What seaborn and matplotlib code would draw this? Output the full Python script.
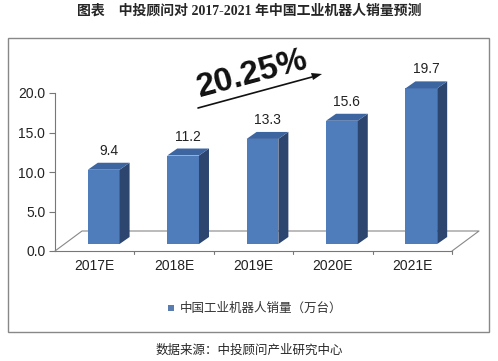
import numpy as np
import pandas as pd
import matplotlib
matplotlib.use('Agg')
import matplotlib.pyplot as plt
import seaborn as sns
from matplotlib.patches import Polygon, Rectangle
from matplotlib.lines import Line2D

# dados
anos = ['2017E', '2018E', '2019E', '2020E', '2021E']
vendas = [9.4, 11.2, 13.3, 15.6, 19.7]
yticks = [0, 5, 10, 15, 20]
serie = '中国工业机器人销量（万台）'
taxa = '20.25%'
titulo = '图表　中投顾问对 2017-2021 年中国工业机器人销量预测'
fonte = '数据来源：中投顾问产业研究中心'

df = pd.DataFrame({'ano': anos, 'vendas': vendas})

sns.set_style('white')
plt.rcParams['font.family'] = ['Liberation Sans', 'Noto Sans CJK SC']

W, H = 498, 361
fig = plt.figure(figsize=(W / 100, H / 100), dpi=100)
ax = fig.add_axes([55 / W, 1 - 251 / H, (452 - 55) / W, (251 - 93) / H])

cor_frente = '#4F7CBA'
cor_topo = '#3D65A0'
cor_lado = '#2C4670'

sns.barplot(data=df, x='ano', y='vendas', color=cor_frente, width=0.4,
            saturation=1, ax=ax, zorder=3)
ax.set_ylim(0, 20)
ax.set_xlim(-0.5, len(anos) - 0.5)
ax.set_yticks(yticks)
ax.set_yticklabels([f'{v:.1f}' for v in yticks], fontsize=10, color='#222222')
ax.set_xticks(range(len(anos)))
ax.set_xticklabels(anos, fontsize=10, color='#222222')
ax.set_xlabel('')
ax.set_ylabel('')
for s in ['top', 'right']:
    ax.spines[s].set_visible(False)
for s in ['left', 'bottom']:
    ax.spines[s].set_color('#777777')
    ax.spines[s].set_linewidth(0.8)
ax.tick_params(axis='y', length=4, color='#777777', pad=3, direction='out', left=True)
ax.tick_params(axis='x', length=0, pad=6)
# marcas entre categorias no eixo x
for b in np.arange(0.5, len(anos) - 0.5, 1):
    ax.plot([b, b], [0, -0.35], color='#777777', lw=0.8, clip_on=False)
ax.plot([4.5, 4.5], [0, -0.35], color='#777777', lw=0.8, clip_on=False)

fig.canvas.draw()
tr = ax.transData
inv = ax.transData.inverted()

# piso em perspectiva
dx_f, dy_f = 27, 20
p0 = tr.transform((-0.5, 0))
p1 = tr.transform((4.5, 0))
piso = [(p0[0], p0[1]), (p0[0] + dx_f, p0[1] + dy_f),
        (p1[0] + dx_f, p1[1] + dy_f), (p1[0], p1[1])]
fig.add_artist(Line2D([q[0] for q in piso], [q[1] for q in piso],
                      transform=None, color='#888888', lw=0.8, zorder=1))

# barras 3D: deslocar a face frontal e desenhar lados e topos
ox, oy = 9, 7
dx, dy = 10, 7
for bar, v in zip(ax.patches, vendas):
    x0, y0 = bar.get_x(), bar.get_y()
    x1, y1 = x0 + bar.get_width(), y0 + bar.get_height()
    a = tr.transform((x0, y0)) + (ox, oy)
    b = tr.transform((x1, y1)) + (ox, oy)
    bar.set_visible(False)
    frente = Rectangle((a[0], a[1]), b[0] - a[0], b[1] - a[1], transform=None,
                       facecolor=cor_frente, edgecolor='none', zorder=3)
    lado = Polygon([(b[0], a[1]), (b[0], b[1]), (b[0] + dx, b[1] + dy),
                    (b[0] + dx, a[1] + dy)], closed=True, transform=None,
                   facecolor=cor_lado, edgecolor='none', zorder=3)
    topo = Polygon([(a[0], b[1]), (b[0], b[1]), (b[0] + dx, b[1] + dy),
                    (a[0] + dx, b[1] + dy)], closed=True, transform=None,
                   facecolor=cor_topo, edgecolor='none', zorder=3)
    for p in (frente, lado, topo):
        fig.add_artist(p)
    fig.text((a[0] + b[0] + dx) / 2 / W, (b[1] + dy + 5) / H, f'{v}',
             ha='center', va='bottom', fontsize=10, color='#222222')

# seta de crescimento
fig.add_artist(Line2D([198, 312], [H - 108, H - 77], transform=None,
                      color='#111111', lw=1.2))
fig.add_artist(Polygon([(322, H - 74), (311, H - 73), (313, H - 80)], closed=True,
                       transform=None, facecolor='#111111', edgecolor='none'))
fig.text(252 / W, 1 - 74 / H, taxa, ha='center', va='center', rotation=15,
         fontsize=24, fontweight='bold', color='#111111')

# moldura
fig.add_artist(Rectangle((8 / W, 1 - 332 / H), (489 - 8) / W, (332 - 38) / H,
                         transform=fig.transFigure, fill=False,
                         edgecolor='#888888', lw=1.0))

# legenda
fig.add_artist(Rectangle((168 / W, 1 - 311 / H), 6 / W, 6 / H,
                         transform=fig.transFigure, facecolor='#5A7DB0',
                         edgecolor='none'))
fig.text(180 / W, 1 - 308 / H, serie, ha='left', va='center', fontsize=9,
         color='#333333', family=['Noto Sans CJK SC'])

fig.text(249 / W, 1 - 11 / H, titulo, ha='center', va='center', fontsize=10,
         fontweight='bold', family=['Liberation Serif', 'Noto Sans CJK SC'])
fig.text(249 / W, 1 - 350 / H, fonte, ha='center', va='center', fontsize=9,
         family=['Noto Sans CJK SC'])

fig.savefig('out.png', dpi=100)
